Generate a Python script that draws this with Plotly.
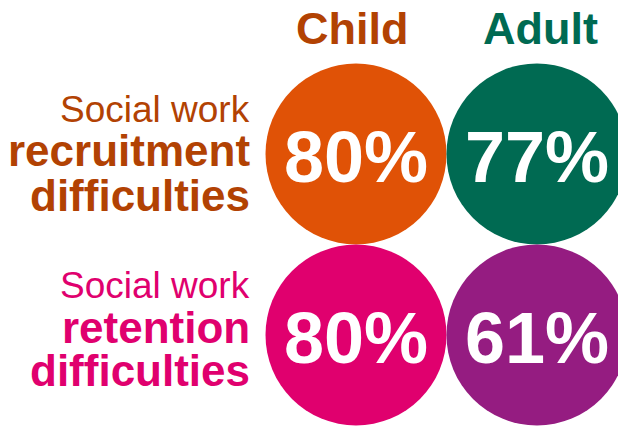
import plotly.graph_objects as go

# ---- data ----
groups = ["Child", "Adult"]
rows = ["recruitment", "retention"]
child_values = [80, 80]      # % per row
adult_values = [77, 61]      # % per row
row_intro = ["Social work", "Social work"]
row_line2 = ["recruitment", "retention"]
row_line3 = ["difficulties", "difficulties"]

# ---- styles ----
FONT = "Liberation Sans, Arial, Helvetica, sans-serif"
WIN_W, WIN_H = 626, 426
OFF = 8                       # default page body margin
W, H = WIN_W - OFF, WIN_H - OFF
circle_colors = {
    ("Child", "recruitment"): "#E05206",
    ("Adult", "recruitment"): "#006A52",
    ("Child", "retention"): "#E0006E",
    ("Adult", "retention"): "#951C81",
}
header_colors = {"Child": "#B24203", "Adult": "#006A52"}
row_colors = {"recruitment": "#B24203", "retention": "#E0006E"}

# pixel layout (window coords) -> axis ranges
cx0, step = 356 - OFF, 181   # centre of first column, spacing (px)
cy0 = 154 - OFF              # centre of first row (px from top)

fig = go.Figure()
values_by_group = {"Child": child_values, "Adult": adult_values}
annotations = []
for g in groups:
    vals = values_by_group[g]
    fig.add_trace(go.Scatter(
        x=[g] * len(rows), y=rows,
        mode="markers",
        marker=dict(size=181, color=[circle_colors[(g, r)] for r in rows],
                    line=dict(width=0), opacity=1),
        hoverinfo="skip", showlegend=False, cliponaxis=False,
    ))
    for r, v in zip(rows, vals):
        annotations.append(dict(
            x=g, xref="x", y=r, yref="y", yshift=-3, text=f"{v}%",
            showarrow=False, xanchor="center", yanchor="middle",
            font=dict(family=FONT, size=72, color="white", weight="bold"),
        ))

# column headers
for g in groups:
    annotations.append(dict(
        x=g, xref="x", y=1 - (29 - OFF) / H, yref="paper", text=g,
        showarrow=False, xanchor="center", yanchor="middle",
        xshift=-4 if g == "Child" else 3,
        font=dict(family=FONT, size=45, color=header_colors[g], weight="bold"),
    ))

# row labels (offsets in px relative to the row centre)
offsets = {"recruitment": (45, 4, -41), "retention": (50, 8, -35)}
for i, r in enumerate(rows):
    o1, o2, o3 = offsets[r]
    for txt, sh, size, wt in [(row_intro[i], o1, 37, "normal"),
                              (row_line2[i], o2, 44, "bold"),
                              (row_line3[i], o3, 44, "bold")]:
        annotations.append(dict(
            x=(252 - OFF) / W, xref="paper", y=r, yref="y", yshift=sh, text=txt,
            showarrow=False, xanchor="right", yanchor="middle",
            font=dict(family=FONT, size=size, color=row_colors[r], weight=wt),
        ))

fig.update_layout(
    width=W, height=H,
    margin=dict(l=0, r=0, t=0, b=0),
    paper_bgcolor="white", plot_bgcolor="white",
    xaxis=dict(type="category", categoryorder="array", categoryarray=groups,
               range=[-cx0 / step, 1 + (W - cx0 - step) / step],
               visible=False, fixedrange=True),
    yaxis=dict(type="category", categoryorder="array", categoryarray=rows,
               range=[(H - cy0) / step, -cy0 / step],
               visible=False, fixedrange=True),
    annotations=annotations,
)

fig.write_html("out.html")
